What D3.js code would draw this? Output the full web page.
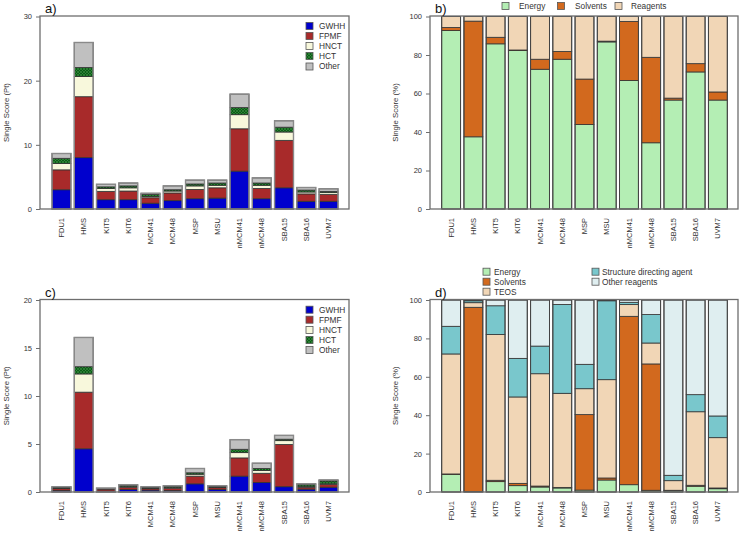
<!DOCTYPE html>
<html>
<head>
<meta charset="utf-8">
<script src="https://cdn.jsdelivr.net/npm/d3@7"></script>
<style>
  body { margin: 0; background: #fff; }
  svg { display: block; font-family: "Liberation Sans", Arial, sans-serif; }
</style>
</head>
<body>
<svg id="chart" width="741" height="534"></svg>
<script>
// ---------------- DATA ----------------
const categories = ["FDU1","HMS","KIT5","KIT6","MCM41","MCM48","MSP","MSU","nMCM41","nMCM48","SBA15","SBA16","UVM7"];

// Panel a (Pt)
const seriesA = ["GWHH","FPMF","HNCT","HCT","Other"];
const aGWHH  = [3.0, 8.0, 1.45, 1.45, 0.9, 1.3, 1.6, 1.7, 5.9, 1.6, 3.3, 1.2, 1.2];
const aFPMF  = [3.1, 9.5, 1.3, 1.35, 0.85, 1.2, 1.45, 1.6, 6.6, 1.6, 7.4, 1.15, 1.05];
const aHNCT  = [1.0, 3.15, 0.45, 0.5, 0.2, 0.3, 0.55, 0.4, 2.2, 0.5, 1.3, 0.3, 0.3];
const aHCT   = [0.8, 1.4, 0.25, 0.3, 0.3, 0.2, 0.3, 0.35, 1.1, 0.35, 0.75, 0.3, 0.2];
const aOther = [0.75, 3.9, 0.4, 0.45, 0.2, 0.6, 0.6, 0.45, 2.1, 0.8, 1.0, 0.4, 0.4];
const ticksA = [0, 10, 20, 30];

// Panel b (%)
const seriesB = ["Energy","Solvents","Reagents"];
const bEnergy   = [92.7, 37.5, 85.8, 82.3, 72.6, 77.8, 43.9, 86.8, 66.8, 34.4, 56.6, 71.2, 56.6];
const bSolvents = [1.6, 60.1, 3.4, 0.3, 5.2, 4.0, 23.6, 0.4, 30.6, 44.4, 1.0, 4.3, 4.2];
const bReagents = [5.7, 2.4, 10.8, 17.4, 22.2, 18.2, 32.5, 12.8, 2.6, 21.2, 42.4, 24.5, 39.2];
const ticksPct = [0, 20, 40, 60, 80, 100];

// Panel c (Pt)
const cGWHH  = [0.15, 4.5, 0.1, 0.25, 0.2, 0.15, 0.85, 0.25, 1.65, 1.0, 0.55, 0.3, 0.5];
const cFPMF  = [0.2, 5.9, 0.2, 0.25, 0.15, 0.25, 0.8, 0.2, 1.9, 0.95, 4.4, 0.2, 0.3];
const cHNCT  = [0.05, 1.9, 0.03, 0.05, 0.05, 0.05, 0.2, 0.05, 0.55, 0.3, 0.4, 0.05, 0.05];
const cHCT   = [0.1, 0.75, 0.05, 0.15, 0.1, 0.15, 0.15, 0.1, 0.35, 0.2, 0.15, 0.2, 0.3];
const cOther = [0.05, 3.05, 0.02, 0.05, 0.05, 0.05, 0.45, 0.05, 1.0, 0.55, 0.4, 0.1, 0.1];
const ticksC = [0, 5, 10, 15, 20];

// Panel d (%)
const seriesD = ["Energy","Solvents","TEOS","Structure directing agent","Other reagents"];
const dEnergy   = [9.2, 0.2, 5.4, 3.3, 2.6, 2.1, 1.0, 6.25, 3.8, 0.9, 0.7, 3.0, 1.7];
const dSolvents = [0.2, 96.0, 0.7, 1.2, 0.5, 0.3, 39.3, 1.05, 87.7, 65.8, 0.2, 0.5, 0.4];
const dTEOS     = [62.5, 2.4, 75.9, 45.0, 58.5, 49.0, 13.5, 51.2, 6.1, 10.9, 5.0, 38.3, 26.2];
const dSDA      = [14.4, 1.0, 15.0, 20.1, 14.4, 46.3, 12.7, 41.1, 1.2, 14.8, 2.8, 8.9, 11.3];
const dOther    = [13.7, 0.4, 3.0, 30.4, 24.0, 2.3, 33.5, 0.4, 1.2, 7.6, 91.3, 49.3, 60.4];

// ---------------- DRAWING ----------------
const svg = d3.select("#chart");
const defs = svg.append("defs");
const pat = defs.append("pattern").attr("id","hctPat").attr("patternUnits","userSpaceOnUse")
  .attr("width",3).attr("height",3);
pat.append("rect").attr("width",3).attr("height",3).attr("fill","#0a5e16");
pat.append("path").attr("d","M0,3 L3,0 M0,0 L3,3").attr("stroke","#3f8f45").attr("stroke-width",0.6);

const colA = ["#0000cd", "#a82a2a", "#f8f8dc", "url(#hctPat)", "#c0c0c0"];
const colB = ["#b4eeb4", "#d2691e", "#f1d6b6"];
const colD = ["#b4eeb4", "#d2691e", "#f1d6b6", "#79c7cc", "#dfeef0"];

function buildRows(arrays) {
  return categories.map((c, i) => {
    const r = { cat: c };
    arrays.forEach((a, k) => { r["s" + k] = a[i]; });
    return r;
  });
}

function panel(opt) {
  const g = svg.append("g");
  const x = d3.scaleBand().domain(categories).range(opt.barRange).paddingInner(0.15).paddingOuter(0);
  const y = d3.scaleLinear().domain([0, opt.ymax]).range([opt.y1, opt.y0 + 0.5]);
  const keys = opt.arrays.map((a, k) => "s" + k);
  const stacked = d3.stack().keys(keys)(buildRows(opt.arrays));

  // bars
  stacked.forEach((layer, k) => {
    g.append("g").selectAll("rect").data(layer).join("rect")
      .attr("x", d => x(d.data.cat))
      .attr("width", x.bandwidth())
      .attr("y", d => y(d[1]))
      .attr("height", d => Math.max(0, y(d[0]) - y(d[1])))
      .attr("fill", opt.colors[k])
      .attr("stroke", "#333")
      .attr("stroke-width", 0.8);
  });
  // bar outline
  g.append("g").selectAll("rect").data(categories).join("rect")
    .attr("x", c => x(c))
    .attr("width", x.bandwidth())
    .attr("y", (c, i) => y(d3.sum(opt.arrays, a => a[i])))
    .attr("height", (c, i) => y(0) - y(d3.sum(opt.arrays, a => a[i])))
    .attr("fill", "none").attr("stroke", opt.outline).attr("stroke-width", opt.outlineW);

  // box
  g.append("rect").attr("x", opt.x0).attr("y", opt.y0)
    .attr("width", opt.x1 - opt.x0).attr("height", opt.y1 - opt.y0)
    .attr("fill", "none").attr("stroke", "#6e6e6e").attr("stroke-width", 1.3);

  // y axis
  const yAxis = d3.axisLeft(y).tickValues(opt.ticks).tickSize(4).tickPadding(4);
  const ya = g.append("g").attr("transform", `translate(${opt.x0},0)`).call(yAxis);
  ya.select(".domain").remove();
  ya.selectAll("line").attr("stroke", "#6e6e6e");
  ya.selectAll("text").attr("font-size", 7.5).attr("fill", "#333").attr("font-family", "Liberation Sans, Arial, sans-serif");

  // x axis labels
  const xAxis = d3.axisBottom(x).tickSize(0).tickPadding(0);
  const xa = g.append("g").attr("transform", `translate(0,${opt.y1})`).call(xAxis);
  xa.select(".domain").remove();
  xa.selectAll("text")
    .attr("font-size", 7.5).attr("fill", "#333").attr("font-family", "Liberation Sans, Arial, sans-serif")
    .attr("text-anchor", "end").attr("dy", null).attr("y", 0)
    .attr("transform", `translate(2.6,${opt.labelOff}) rotate(-90)`);

  // y title
  g.append("text")
    .attr("transform", `translate(${opt.titleX},${(opt.y0 + opt.y1) / 2}) rotate(-90)`)
    .attr("text-anchor", "middle").attr("dy", "0.35em")
    .attr("font-size", 7.8).attr("fill", "#333").text(opt.title);

  // panel label
  g.append("text").attr("x", opt.x0 + 5).attr("y", opt.y0 - 3)
    .attr("font-size", 13).attr("fill", "#111").text(opt.label);

  // legend
  opt.legend.forEach((it, k) => {
    g.append("rect").attr("x", it[0]).attr("y", it[1] - 3.5).attr("width", 7).attr("height", 7)
      .attr("fill", opt.colors[k]).attr("stroke", "#555").attr("stroke-width", 0.8);
    g.append("text").attr("x", it[2]).attr("y", it[1]).attr("dy", "0.35em")
      .attr("font-size", 8.3).attr("fill", "#333").text(opt.names[k]);
  });
}

panel({
  arrays: [aGWHH, aFPMF, aHNCT, aHCT, aOther], colors: colA, names: seriesA,
  barRange: [52, 338], x0: 40, x1: 349, y0: 16, y1: 209, ymax: 30, ticks: ticksA,
  title: "Single Score (Pt)", titleX: 6, label: "a)", labelOff: 9,
  outline: "#8a8a8a", outlineW: 1.4,
  legend: [[306,26,319],[306,36,319],[306,46,319],[306,56,319],[306,66.5,319]]
});
panel({
  arrays: [bEnergy, bSolvents, bReagents], colors: colB, names: seriesB,
  barRange: [441.7, 727.3], x0: 430, x1: 738, y0: 16, y1: 209, ymax: 100, ticks: ticksPct,
  title: "Single Score (%)", titleX: 395, label: "b)", labelOff: 9,
  outline: "#444", outlineW: 1,
  legend: [[502,6,519],[557.5,6,575],[615,6,631]]
});
panel({
  arrays: [cGWHH, cFPMF, cHNCT, cHCT, cOther], colors: colA, names: seriesA,
  barRange: [52, 338], x0: 40, x1: 349, y0: 299.5, y1: 492, ymax: 20, ticks: ticksC,
  title: "Single Score (Pt)", titleX: 6, label: "c)", labelOff: 9,
  outline: "#8a8a8a", outlineW: 1.4,
  legend: [[306,309.7,319],[306,319.7,319],[306,330,319],[306,340,319],[306,350,319]]
});
panel({
  arrays: [dEnergy, dSolvents, dTEOS, dSDA, dOther], colors: colD, names: seriesD,
  barRange: [441.7, 727.3], x0: 430, x1: 738, y0: 299.5, y1: 492, ymax: 100, ticks: ticksPct,
  title: "Single Score (%)", titleX: 395, label: "d)", labelOff: 9,
  outline: "#444", outlineW: 1,
  legend: [[483,271.7,494],[483,281.7,494],[483,291.7,494],[592,271.7,602],[592,281.7,602]]
});
</script>
</body>
</html>
